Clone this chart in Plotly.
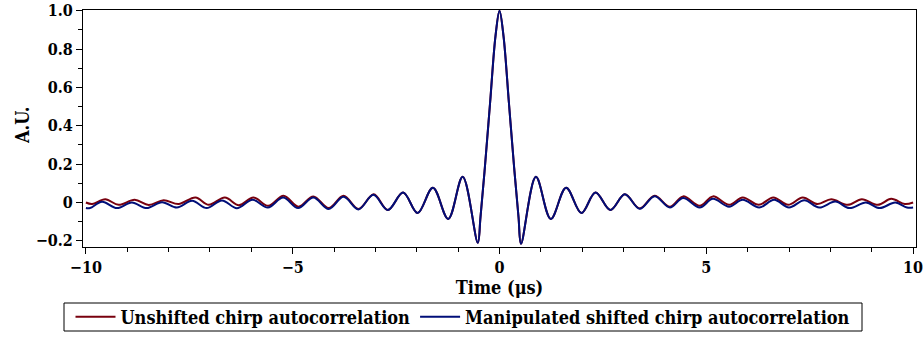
import plotly.graph_objects as go

# Unshifted chirp autocorrelation (time in microseconds, amplitude A.U.)
t_unshifted = [-10.0, -9.85, -9.53, -9.21, -8.82, -8.48, -8.12, -7.76, -7.35, -7.03,
               -6.64, -6.30, -5.95, -5.59, -5.22, -4.86, -4.50, -4.13, -3.77, -3.41,
               -3.04, -2.70, -2.33, -1.98, -1.61, -1.24, -0.89, -0.525, -0.46, -0.355,
               -0.226, -0.097, 0.0, 0.097, 0.226, 0.355, 0.46, 0.52, 0.88, 1.24,
               1.61, 1.98, 2.32, 2.68, 3.03, 3.39, 3.75, 4.12, 4.44, 4.84,
               5.16, 5.55, 5.88, 6.27, 6.62, 6.98, 7.33, 7.69, 8.02, 8.42,
               8.76, 9.15, 9.47, 9.80, 10.0]
a_unshifted = [0.0, -0.008, 0.017, -0.012, 0.014, -0.013, 0.012, -0.008, 0.026, -0.012,
               0.026, -0.014, 0.026, -0.017, 0.035, -0.022, 0.032, -0.029, 0.035, -0.034,
               0.043, -0.039, 0.052, -0.055, 0.077, -0.086, 0.134, -0.21, -0.077, 0.18,
               0.524, 0.868, 1.0, 0.868, 0.524, 0.18, -0.077, -0.215, 0.134, -0.086,
               0.077, -0.055, 0.052, -0.039, 0.043, -0.031, 0.035, -0.022, 0.032, -0.017,
               0.032, -0.012, 0.026, -0.012, 0.026, -0.012, 0.026, -0.008, 0.017, -0.012,
               0.017, -0.012, 0.019, -0.008, 0.0]

# Manipulated shifted chirp autocorrelation
t_shifted = [-10.0, -9.90, -9.61, -9.25, -8.89, -8.53, -8.16, -7.80, -7.43, -7.08,
             -6.71, -6.35, -5.97, -5.60, -5.23, -4.87, -4.50, -4.13, -3.77, -3.41,
             -3.05, -2.70, -2.33, -1.98, -1.61, -1.24, -0.89, -0.525, -0.46, -0.355,
             -0.226, -0.097, 0.0, 0.097, 0.226, 0.355, 0.46, 0.52, 0.88, 1.24,
             1.61, 1.98, 2.32, 2.68, 3.03, 3.39, 3.75, 4.12, 4.44, 4.84,
             5.16, 5.55, 5.88, 6.28, 6.64, 7.00, 7.37, 7.73, 8.12, 8.46,
             8.86, 9.19, 9.57, 9.85, 10.0]
a_shifted = [-0.029, -0.029, 0.004, -0.029, 0.0, -0.029, 0.002, -0.026, 0.009, -0.029,
             0.011, -0.030, 0.014, -0.026, 0.026, -0.029, 0.026, -0.034, 0.030, -0.036,
             0.040, -0.039, 0.052, -0.055, 0.077, -0.086, 0.134, -0.21, -0.077, 0.18,
             0.524, 0.868, 1.0, 0.868, 0.524, 0.18, -0.077, -0.215, 0.134, -0.086,
             0.077, -0.055, 0.052, -0.039, 0.043, -0.033, 0.033, -0.026, 0.023, -0.026,
             0.019, -0.022, 0.014, -0.026, 0.014, -0.026, 0.012, -0.026, 0.005, -0.029,
             0.0, -0.029, 0.0, -0.026, -0.026]

series_names = ["Unshifted chirp autocorrelation", "Manipulated shifted chirp autocorrelation"]
x_tick_vals = [-10, -5, 0, 5, 10]
x_tick_text = ["\u221210", "\u22125", "0", "5", "10"]
y_tick_vals = [-0.2, 0, 0.2, 0.4, 0.6, 0.8, 1.0]
y_tick_text = ["\u22120.2", "0", "0.2", "0.4", "0.6", "0.8", "1.0"]

FONT = "DejaVu Serif Condensed, DejaVu Serif"
tick_font = dict(family=FONT, size=16, color="black", weight="bold")
text_font = dict(family=FONT, size=18, color="black", weight="bold")

W, H = 924, 338
ML, MR, MT, MB = 83, 8, 10, 91
PW, PH = W - ML - MR, H - MT - MB

def px_x(px):
    return (px - ML) / PW

def px_y(py):
    return (H - MB - py) / PH

fig = go.Figure()
fig.add_trace(go.Scatter(x=t_unshifted, y=a_unshifted, mode="lines", name=series_names[0],
                         line=dict(color="#78000E", width=2, shape="spline", smoothing=1.0)))
fig.add_trace(go.Scatter(x=t_shifted, y=a_shifted, mode="lines", name=series_names[1],
                         line=dict(color="#000E78", width=2, shape="spline", smoothing=1.0)))

axis_common = dict(showline=True, linecolor="black", linewidth=1, mirror=True,
                   ticks="outside", tickcolor="black", tickwidth=1, ticklen=6,
                   showgrid=False, zeroline=False, ticklabeloverflow="allow",
                   tickfont=tick_font)

fig.update_xaxes(range=[-10.07, 10.07], tickvals=x_tick_vals, ticktext=x_tick_text,
                 minor=dict(dtick=1, tick0=0, ticks="outside", ticklen=4, tickcolor="black"),
                 title=dict(text="Time (\u03bcs)", font=text_font, standoff=6),
                 **axis_common)
fig.update_yaxes(range=[-0.232, 1.004], tickvals=y_tick_vals, ticktext=y_tick_text,
                 minor=dict(dtick=0.1, tick0=0, ticks="outside", ticklen=4, tickcolor="black"),
                 **axis_common)

# y-axis title placed as text
fig.add_annotation(text="A.U.", textangle=-90, xref="paper", yref="paper",
                   x=px_x(22), y=px_y(126), xanchor="center", yanchor="middle",
                   showarrow=False, font=text_font)

# legend frame
fig.add_shape(type="rect", xref="paper", yref="paper",
              x0=px_x(64), x1=px_x(862), y0=px_y(331), y1=px_y(303),
              line=dict(color="black", width=1), fillcolor="rgba(0,0,0,0)", layer="above")

fig.update_layout(
    width=W, height=H,
    margin=dict(l=ML, r=MR, t=MT, b=MB, autoexpand=False),
    plot_bgcolor="white", paper_bgcolor="white",
    font=text_font,
    showlegend=True,
    legend=dict(orientation="h", xref="container", yref="container",
                x=463 / W, xanchor="center", y=1 - 317 / H, yanchor="middle",
                borderwidth=0, bgcolor="rgba(0,0,0,0)",
                font=text_font, itemwidth=40, tracegroupgap=0),
)

fig.write_html("out.html")
